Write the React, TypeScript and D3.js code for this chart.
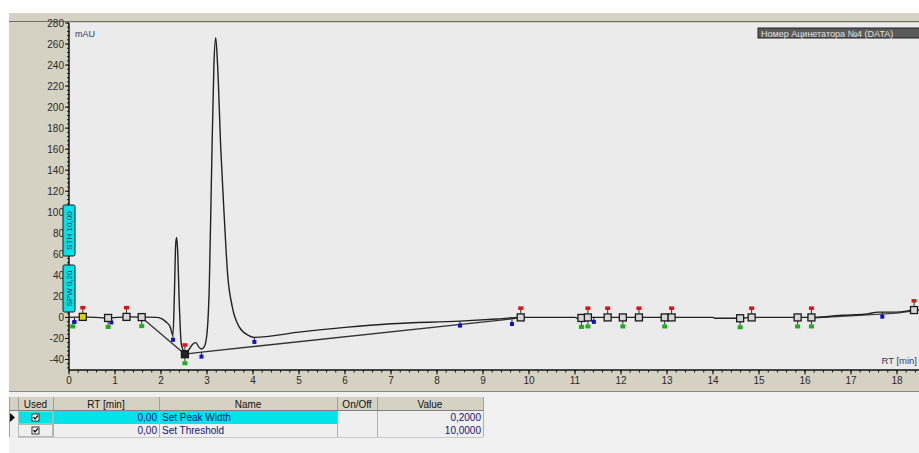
import * as d3 from "d3";

const W = 919;
const H = 453;

// chromatogram trace: [RT min, mAU]
const signal: [number, number][] = [
  [0, 0], [0.3, 0.5], [0.85, -0.5], [1.25, 0.5], [1.6, 0.3], [1.9, 0],
  [2.0, -1], [2.1, -4], [2.2, -9], [2.26, -17], [2.29, 20], [2.32, 70],
  [2.34, 76], [2.36, 65], [2.4, 10], [2.44, -25], [2.48, -31], [2.52, -35],
  [2.6, -31], [2.7, -25], [2.76, -24], [2.82, -28], [2.88, -30], [2.94, -28],
  [3.0, -15], [3.05, 30], [3.1, 140], [3.15, 240], [3.19, 266], [3.23, 240],
  [3.3, 160], [3.37, 100], [3.45, 40], [3.55, 10], [3.7, -9], [3.9, -17],
  [4.03, -19], [5.0, -14], [6.0, -9.5], [7.0, -6], [8.5, -3.5], [9.3, -1.5],
  [9.8, 0], [11.0, 0], [11.1, -2], [11.3, 0], [14.0, 0], [14.05, -0.8],
  [14.6, -0.8], [14.8, 0], [16.2, 0], [16.8, 2], [17.3, 3], [17.6, 5],
  [18.0, 5], [18.4, 7], [18.7, 7],
];

// drawn baselines
const baselineA: [number, number][] = [[1.58, 0], [2.52, -35]];
const baselineB: [number, number][] = [[2.52, -35], [2.88, -33], [9.7, -1], [9.82, 0]];
const baselineC: [number, number][] = [[16.2, -0.5], [17.0, 1.5], [18.0, 4], [18.4, 6.5]];

// event markers [RT, mAU]
const squareMarks: [number, number][] = [
  [0.3, 0.5], [0.85, -0.5], [1.25, 0.5], [1.58, 0.3], [2.52, -35], [9.82, 0],
  [11.14, -0.5], [11.28, 0], [11.71, 0], [12.04, 0], [12.39, 0], [12.95, 0],
  [13.1, 0], [14.59, -0.8], [14.84, 0], [15.84, 0], [16.14, 0], [18.37, 7],
];
const redMarks: [number, number][] = [
  [0.3, 0.5], [1.25, 0.5], [2.52, -35], [9.82, 0], [11.28, 0], [11.71, 0],
  [12.39, 0], [13.1, 0], [14.84, 0], [16.14, 0], [18.37, 7],
];
const greenMarks: [number, number][] = [
  [0.08, 0], [0.85, -0.5], [1.58, 0.3], [2.52, -35], [11.14, -0.5], [11.28, 0],
  [12.04, 0], [12.95, 0], [14.59, -0.8], [15.84, 0], [16.14, 0],
];
const blueMarks: [number, number][] = [
  [0.12, 0], [0.92, -0.5], [2.26, -17], [2.88, -33], [4.03, -19], [8.5, -3.5],
  [9.63, -2], [11.41, 0], [17.68, 5],
];

const tableHeaders = ["Used", "RT [min]", "Name", "On/Off", "Value"];
const tableRT = ["0,00", "0,00"];
const tableNames = ["Set Peak Width", "Set Threshold"];
const tableValues = ["0,2000", "10,0000"];
const colEdges = [9, 18, 53, 159, 337, 377, 483];

const axisLabels = ["STH 10,00", "SPW 0,20"];
const traceTitle = "Номер Ацинетатора №4 (DATA)";

const TAN = "#d5d1c3";
const FONT = "'Liberation Sans', Arial, sans-serif";

export default function App() {
  const left = 69;
  const top = 23;
  const bottom = 370;
  const x = d3.scaleLinear().domain([0, 19]).range([left, left + 19 * 46]);
  const y = d3.scaleLinear().domain([-50, 280]).range([bottom, top]);

  const line = d3
    .line<[number, number]>()
    .x((d) => x(d[0]))
    .y((d) => y(d[1]))
    .curve(d3.curveMonotoneX);
  const straight = d3
    .line<[number, number]>()
    .x((d) => x(d[0]))
    .y((d) => y(d[1]));

  const yMajor = d3.range(-40, 281, 20);
  const yMinor = d3.range(-48, 281, 4);
  const xMajor = d3.range(0, 19, 1);
  const xMinor = d3.range(0, 19.01, 0.2);

  const rowTop = [411, 424];

  return (
    <svg
      width={W}
      height={H}
      style={{ position: "absolute", left: 0, top: 0, fontFamily: FONT }}
    >
      <rect width={W} height={H} fill="#ffffff" />
      {/* window frame */}
      <rect x={9} y={13} width={W - 9} height={379} fill={TAN} />
      <line x1={9} x2={W} y1={21.5} y2={21.5} stroke="#6e6e6e" strokeWidth={1} />
      <rect x={left} y={top} width={W - left} height={bottom - top} fill="#ebebeb" />
      <defs>
        <clipPath id="plot">
          <rect x={left} y={top} width={W - left} height={bottom - top} />
        </clipPath>
      </defs>

      {/* y axis */}
      <line x1={left} x2={left} y1={top} y2={bottom} stroke="#111" strokeWidth={1.5} />
      {yMinor.map((v) => (
        <line key={"ym" + v} x1={left - 2} x2={left} y1={y(v)} y2={y(v)} stroke="#111" />
      ))}
      {yMajor.map((v) => (
        <g key={"yM" + v}>
          <line x1={left - 4} x2={left} y1={y(v)} y2={y(v)} stroke="#111" />
          <text x={left - 5} y={y(v)} dy="0.35em" textAnchor="end" fontSize={10} fill="#2a2a2a">
            {v}
          </text>
        </g>
      ))}

      {/* x axis */}
      <line x1={left} x2={W} y1={bottom} y2={bottom} stroke="#111" strokeWidth={1.5} />
      {xMinor.map((v) => (
        <line key={"xm" + v} x1={x(v)} x2={x(v)} y1={bottom} y2={bottom + 2.5} stroke="#111" />
      ))}
      {xMajor.map((v) => (
        <g key={"xM" + v}>
          <line x1={x(v)} x2={x(v)} y1={bottom} y2={bottom + 4.5} stroke="#111" />
          <text x={x(v)} y={384} textAnchor="middle" fontSize={10} fill="#2a2a2a">
            {v}
          </text>
        </g>
      ))}

      <text x={75} y={37} fontSize={9} fill="#3a3a5a">mAU</text>
      <text x={917} y={364} textAnchor="end" fontSize={9.5} fill="#3a3a5a">RT [min]</text>

      {/* trace title box */}
      <g clipPath="url(#plot)">
        <rect x={758} y={28} width={170} height={10} fill="#5a5a5a" stroke="#222" />
        <text x={761} y={36.5} fontSize={9} fill="#e0e0e0">{traceTitle}</text>
      </g>

      {/* cyan event labels on the y axis */}
      {axisLabels.map((t, i) => {
        const y0 = i === 0 ? 205 : 265;
        const h = i === 0 ? 51 : 47;
        const cx = 69;
        const cy = y0 + h / 2;
        return (
          <g key={t}>
            <rect x={63} y={y0} width={12} height={h} fill="#00e3e8" stroke="#1a1a1a" strokeWidth={1} rx={1.5} />
            <text
              x={cx}
              y={cy}
              fontSize={8}
              fill="#1a1a50"
              textAnchor="middle"
              dy="0.35em"
              transform={`rotate(-90 ${cx} ${cy})`}
            >
              {t}
            </text>
          </g>
        );
      })}

      {/* chromatogram */}
      <g clipPath="url(#plot)">
        <path d={straight(baselineA) ?? ""} fill="none" stroke="#333" strokeWidth={1.3} />
        <path d={straight(baselineB) ?? ""} fill="none" stroke="#333" strokeWidth={1.3} />
        <path d={straight(baselineC) ?? ""} fill="none" stroke="#444" strokeWidth={1.2} />
        <path d={line(signal) ?? ""} fill="none" stroke="#222" strokeWidth={1.4} />

        {redMarks.map(([t, v]) => (
          <g key={"r" + t}>
            <line x1={x(t)} x2={x(t)} y1={y(v) - 4} y2={y(v) - 8} stroke="#333" />
            <rect x={x(t) - 2.5} y={y(v) - 11} width={5} height={3.5} fill="#e01010" />
          </g>
        ))}
        {greenMarks.map(([t, v]) => (
          <g key={"g" + t}>
            <line x1={x(t)} x2={x(t)} y1={y(v) + 3} y2={y(v) + 7} stroke="#333" />
            <rect x={x(t) - 2.5} y={y(v) + 7} width={5} height={4} fill="#19b019" />
          </g>
        ))}
        {blueMarks.map(([t, v]) => (
          <g key={"b" + t}>
            <line x1={x(t)} x2={x(t)} y1={y(v)} y2={y(v) + 3} stroke="#222" />
            <rect x={x(t) - 2} y={y(v) + 2.5} width={4} height={4} fill="#1010d0" />
          </g>
        ))}
        {squareMarks.map(([t, v]) => (
          <rect
            key={"s" + t}
            x={x(t) - 3.5}
            y={y(v) - 3.5}
            width={7}
            height={7}
            fill={t === 0.3 ? "#d8d800" : t === 2.52 ? "#222" : "#d6d6d6"}
            stroke="#1a1a1a"
            strokeWidth={1.3}
          />
        ))}
      </g>

      {/* event table */}
      <rect x={9} y={392} width={W - 9} height={H - 392} fill="#f0f0f0" />
      <line x1={9} x2={W} y1={391.5} y2={391.5} stroke="#8a8a80" />
      <rect x={9} y={397} width={474} height={14} fill={TAN} />
      {colEdges.map((cx) => (
        <line key={"c" + cx} x1={cx + 0.5} x2={cx + 0.5} y1={397} y2={437} stroke="#a0a0a0" />
      ))}
      <line x1={9} x2={483} y1={410.5} y2={410.5} stroke="#808080" />
      {tableHeaders.map((h, i) => (
        <text
          key={h}
          x={(colEdges[i + 1] + colEdges[i + 2]) / 2}
          y={408}
          textAnchor="middle"
          fontSize={10}
          fill="#111"
        >
          {h}
        </text>
      ))}
      {tableNames.map((name, i) => {
        const ry = rowTop[i];
        return (
          <g key={name}>
            <rect x={18} y={ry} width={465} height={13} fill="#efefef" />
            {i === 0 && <rect x={18} y={ry} width={319} height={13} fill="#00e3e8" />}
            <rect x={18.5} y={ry + 0.5} width={34} height={12} fill="none" stroke="#b8b8b8" />
            <line x1={18} x2={483} y1={ry + 13.5} y2={ry + 13.5} stroke="#c8c8c8" />
            <rect x={32} y={ry + 3} width={7} height={7} fill="#fff" stroke="#333" />
            <path
              d={`M${33.5},${ry + 6} L${35},${ry + 8} L${38},${ry + 4.5}`}
              fill="none"
              stroke="#111"
              strokeWidth={1.3}
            />
            <text x={157} y={ry + 10} textAnchor="end" fontSize={10} fill="#141478">
              {tableRT[i]}
            </text>
            <text x={162} y={ry + 10} fontSize={10} fill="#141478">
              {name}
            </text>
            <text x={481} y={ry + 10} textAnchor="end" fontSize={10} fill="#141478">
              {tableValues[i]}
            </text>
          </g>
        );
      })}
      <path d="M10,413 L15,417.5 L10,422 Z" fill="#111" />
      {colEdges.slice(2).map((cx) => (
        <line key={"cc" + cx} x1={cx + 0.5} x2={cx + 0.5} y1={411} y2={437} stroke="#b0b0b0" />
      ))}
    </svg>
  );
}
